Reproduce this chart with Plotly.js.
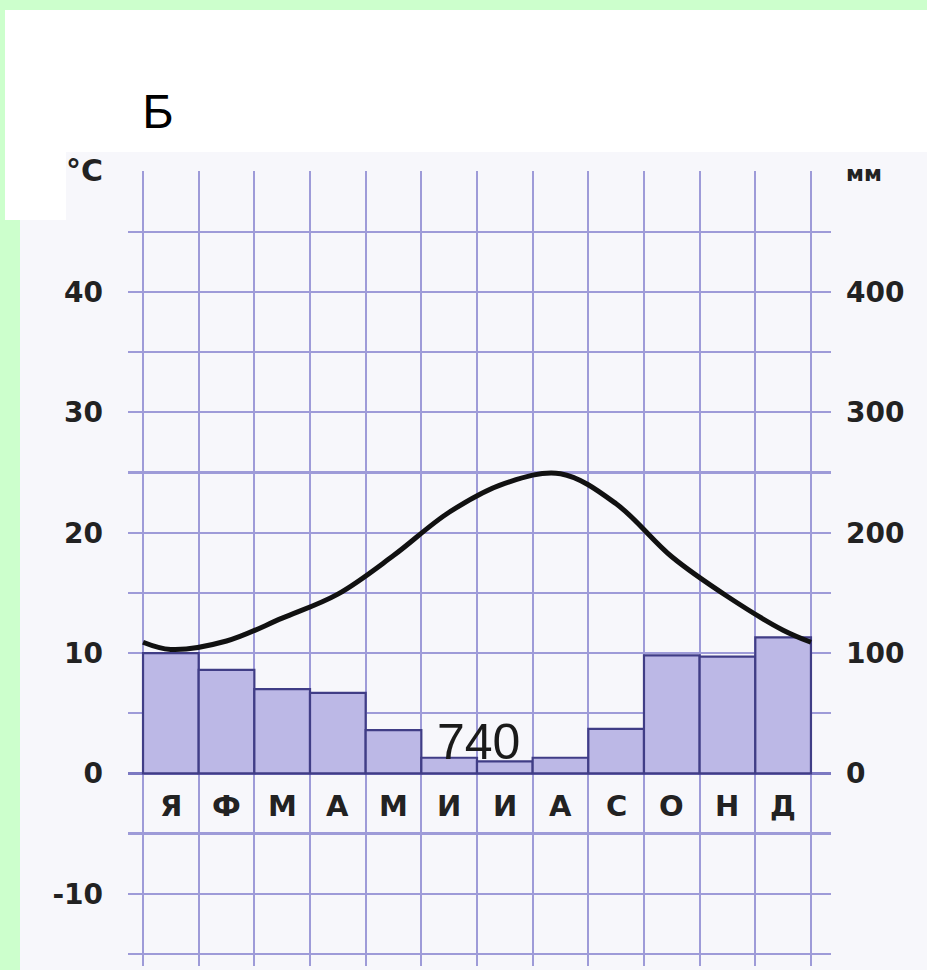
<!DOCTYPE html>
<html>
<head>
<meta charset="utf-8">
<script src="https://cdn.plot.ly/plotly-3.0.1.min.js"></script>
<style>
  html, body { margin: 0; padding: 0; width: 927px; height: 970px; overflow: hidden; background: #ccffcc; }
  .bg { position: absolute; }
  #chart { position: absolute; left: 0; top: 0; width: 927px; height: 970px; }
</style>
</head>
<body>
<div class="bg" style="left:5px; top:10px; width:922px; height:142px; background:#ffffff;"></div>
<div class="bg" style="left:20px; top:152px; width:907px; height:818px; background:#f7f7fb;"></div>
<div class="bg" style="left:5px; top:152px; width:61px; height:68px; background:#ffffff;"></div>
<div id="chart"></div>
<script>
// ---- data ----
const months = ['Я', 'Ф', 'М', 'А', 'М', 'И', 'И', 'А', 'С', 'О', 'Н', 'Д'];
const tempC = [10.3, 11.0, 12.9, 14.9, 18.1, 21.7, 24.1, 24.9, 22.4, 18.0, 14.7, 11.9];
const tempYearStartEnd = [10.9, 10.9];
const precipMm = [100, 86, 70, 67, 36, 13, 10, 13, 37, 98, 97, 113];
const annualPrecipMm = 740;
const tempTickVals = [-10, 0, 10, 20, 30, 40, 50];
const tempTickText = ['-10', '0', '10', '20', '30', '40', '<span style="font-size:30px">°C</span>'];
const mmTickVals = [0, 100, 200, 300, 400, 500];
const mmTickText = ['0', '100', '200', '300', '400', '<span style="font-size:22px">мм</span>'];
const chartTitle = 'Б';

// ---- derived positions (month columns on a numeric axis) ----
const centers = months.map((_, i) => i + 0.5);
const lineX = [0].concat(centers, [months.length]);
const lineY = [tempYearStartEnd[0]].concat(tempC, [tempYearStartEnd[1]]);

const gridColor = '#9e9bd8';
const tickFont = { family: 'DejaVu Sans', size: 28, color: '#222222', weight: 'bold' };

const traces = [
  {
    type: 'bar',
    x: centers,
    y: precipMm,
    width: 1,
    xaxis: 'x',
    yaxis: 'y',
    marker: { color: '#bcb8e6', line: { color: '#403d86', width: 2.2 } },
    hoverinfo: 'skip'
  },
  {
    type: 'scatter',
    mode: 'lines',
    x: lineX,
    y: lineY,
    xaxis: 'x',
    yaxis: 'y2',
    line: { color: '#111111', width: 5, shape: 'spline', smoothing: 1 },
    hoverinfo: 'skip'
  }
];

const annotations = months.map((m, i) => ({
  x: centers[i], y: -27, xref: 'x', yref: 'y',
  text: m, showarrow: false,
  font: { family: 'DejaVu Sans', size: 29, color: '#222222', weight: 'bold' }
}));
annotations.push({
  x: 6.02, y: 26, xref: 'x', yref: 'y',
  text: String(annualPrecipMm), showarrow: false,
  font: { family: 'Liberation Sans', size: 50, color: '#1a1a1a' }
});

const layout = {
  width: 927,
  height: 970,
  margin: { l: 128, r: 96, t: 171, b: 4, pad: 0 },
  paper_bgcolor: 'rgba(0,0,0,0)',
  plot_bgcolor: 'rgba(0,0,0,0)',
  showlegend: false,
  bargap: 0,
  title: {
    text: chartTitle,
    xref: 'container', yref: 'container',
    x: 158 / 927, xanchor: 'center',
    y: 1 - 111 / 970, yanchor: 'middle',
    font: { family: 'Liberation Sans', size: 48, color: '#000000' }
  },
  xaxis: {
    range: [-0.27, 12.36],
    tickmode: 'array',
    tickvals: centers,
    showticklabels: false,
    showgrid: false,
    zeroline: false,
    ticks: '',
    minor: { tickmode: 'linear', tick0: 0, dtick: 1, showgrid: true, gridcolor: gridColor, gridwidth: 2.2, ticks: '' }
  },
  yaxis: {
    side: 'right',
    range: [-160, 500.5],
    tickmode: 'array',
    tickvals: mmTickVals,
    ticktext: mmTickText,
    showgrid: true,
    gridcolor: gridColor,
    gridwidth: 2.2,
    minor: { tickmode: 'linear', tick0: -150, dtick: 50, showgrid: true, gridcolor: gridColor, gridwidth: 2.2, ticks: '' },
    zeroline: true,
    zerolinecolor: '#7c79c2',
    zerolinewidth: 2.8,
    ticks: '',
    ticklabelstandoff: 14,
    tickfont: tickFont
  },
  yaxis2: {
    overlaying: 'y',
    side: 'left',
    range: [-16, 50.05],
    tickmode: 'array',
    tickvals: tempTickVals,
    ticktext: tempTickText,
    showgrid: false,
    zeroline: false,
    ticks: '',
    ticklabelstandoff: 24,
    tickfont: tickFont
  },
  annotations: annotations
};

Plotly.newPlot('chart', traces, layout, { displayModeBar: false, staticPlot: true });
</script>
</body>
</html>
